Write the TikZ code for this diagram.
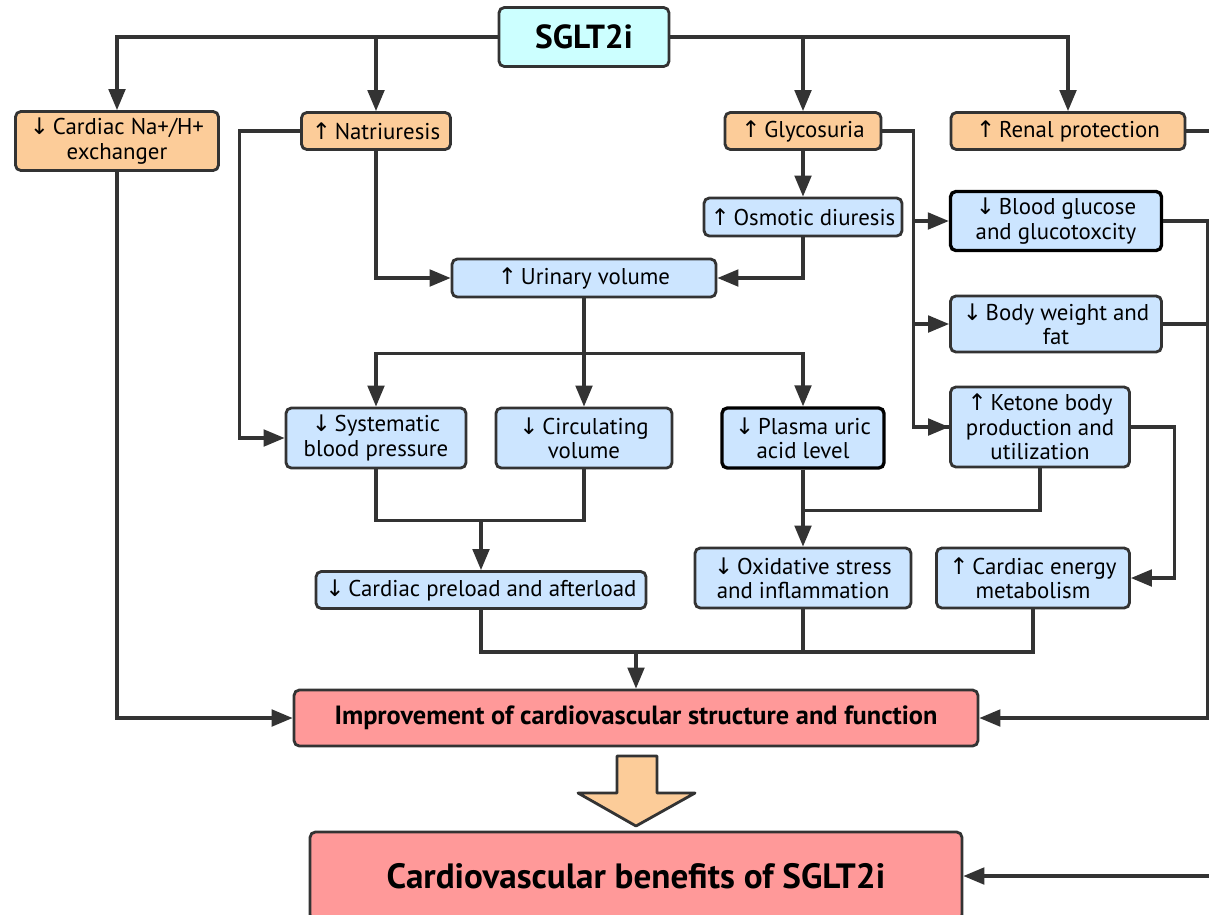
\documentclass[tikz,border=0pt]{standalone}
\usepackage{fontspec}
\setmainfont{PT Sans}
\newfontfamily\arrowfont{DejaVu Sans}
\usetikzlibrary{arrows.meta,positioning}
\definecolor{lineclr}{RGB}{51,51,51}
\definecolor{orangebox}{RGB}{252,204,153}
\definecolor{bluebox}{RGB}{204,229,255}
\definecolor{cyanbox}{RGB}{204,255,255}
\definecolor{redbox}{RGB}{255,153,153}
\newcommand{\incr}{{\arrowfont ↑}\,}
\newcommand{\decr}{{\arrowfont ↓}\,}

\begin{document}
\begin{tikzpicture}[x=0.02cm,y=-0.02cm,
    box/.style={draw=lineclr, line width=1.6pt, rounded corners=3pt, align=center,
        inner sep=0pt, font=\fontsize{13}{13.8}\selectfont},
    cause/.style={box, fill=orangebox},
    effect/.style={box, fill=bluebox},
    keybox/.style={effect, draw=black, line width=1.9pt},
    wire/.style={draw=lineclr, line width=1.8pt},
    link/.style={wire, -{Triangle[length=12pt,width=9.5pt]}}]
    \useasboundingbox (0,0) rectangle (1209,914);
    \clip (0,0) rectangle (1209,914);

    % Drug and its primary effects
    \node[box, fill=cyanbox, minimum width=3.4cm, minimum height=1.18cm,
        font=\fontsize{19}{22}\selectfont\bfseries] (sglt) at (584,37) {SGLT2i};
    \node[cause, minimum width=4.06cm, minimum height=1.18cm] (nhe) at (117,141) {\decr Cardiac Na+/H+\\exchanger};
    \node[cause, minimum width=2.98cm, minimum height=0.74cm] (natri) at (376,131) {\incr Natriuresis};
    \node[cause, minimum width=3.12cm, minimum height=0.74cm] (glyco) at (803,131) {\incr Glycosuria};
    \node[cause, minimum width=4.68cm, minimum height=0.74cm] (renal) at (1068,131) {\incr Renal protection};

    % Secondary effects
    \node[effect, minimum width=3.96cm, minimum height=0.76cm] (osmo) at (803,217) {\incr Osmotic diuresis};
    \node[keybox, minimum width=4.22cm, minimum height=1.18cm] (glucose) at (1056,221) {\decr Blood glucose\\and glucotoxcity};
    \node[effect, minimum width=5.28cm, minimum height=0.76cm] (urine) at (584,278) {\incr Urinary volume};
    \node[effect, minimum width=4.22cm, minimum height=1.12cm] (weight) at (1056,324) {\decr Body weight and\\fat};
    \node[effect, minimum width=3.58cm, minimum height=1.6cm] (ketone) at (1040,427) {\incr Ketone body\\production and\\utilization};
    \node[effect, minimum width=3.6cm, minimum height=1.2cm] (bp) at (376,438) {\decr Systematic\\blood pressure};
    \node[effect, minimum width=3.52cm, minimum height=1.2cm] (circ) at (584,438) {\decr Circulating\\volume};
    \node[keybox, minimum width=3.24cm, minimum height=1.2cm] (uric) at (803,438) {\decr Plasma uric\\acid level};
    \node[effect, minimum width=6.6cm, minimum height=0.74cm] (load) at (481,590) {\decr Cardiac preload and afterload};
    \node[effect, minimum width=4.32cm, minimum height=1.2cm] (oxid) at (803,578) {\decr Oxidative stress\\and inflammation};
    \node[effect, minimum width=3.86cm, minimum height=1.2cm] (energy) at (1033,578) {\incr Cardiac energy\\metabolism};

    % Outcome
    \node[box, fill=redbox, minimum width=13.68cm, minimum height=1.12cm,
        font=\fontsize{15}{18}\selectfont\bfseries] (improve) at (636,718)
        {Improvement of cardiovascular structure and function};
    \node[box, fill=redbox, minimum width=13.04cm, minimum height=1.76cm,
        font=\fontsize{20}{24}\selectfont\bfseries] (benefit) at (636,876)
        {Cardiovascular benefits of SGLT2i};
    \draw[lineclr, line width=1.6pt, fill=orangebox, line join=round]
        (617,756) -- (657,756) -- (657,793) -- (695,793) -- (636,826)
        -- (578,793) -- (617,793) -- cycle;

    % Connectors from SGLT2i
    \draw[link] (sglt.west) -| (nhe.north);
    \draw[link] (sglt.west) -| (natri.north);
    \draw[link] (sglt.east) -| (glyco.north);
    \draw[link] (sglt.east) -| (renal.north);

    % Natriuresis branch
    \draw[link] (natri.west) -- ++(-61,0) |- (bp.west);
    \draw[link] (natri.south) |- (urine.west);

    % Glycosuria branch
    \draw[link] (glyco.south) -- (osmo.north);
    \draw[link] (osmo.south) |- (urine.east);
    \draw[wire] (glyco.east) -- ++(31,0) coordinate (gx) |- (ketone.west);
    \draw[link] (gx) |- (glucose.west);
    \draw[link] (gx) |- (weight.west);
    \draw[link] (gx |- ketone.west) -- (ketone.west);

    % Urinary volume split
    \draw[link] (urine.south) -- (circ.north);
    \path (urine.south) ++(0,55) coordinate (usplit);
    \draw[link] (usplit) -| (bp.north);
    \draw[link] (usplit) -| (uric.north);

    % Haemodynamic effects
    \path (bp.south) ++(0,51) coordinate (bpjoin);
    \draw[wire] (bp.south) -- (bpjoin) -| (circ.south);
    \draw[link] (bpjoin -| load.north) -- (load.north);

    % Metabolic effects
    \draw[link] (uric.south) -- (oxid.north);
    \draw[wire] (ketone.south) -- ++(0,42) -| (uric.south);
    \draw[link] (ketone.east) -- ++(44,0) |- (energy.east);

    % Merge into the outcome
    \path (load.south) ++(0,42) coordinate (merge);
    \draw[wire] (load.south) -- (merge) -| (energy.south);
    \draw[wire] (oxid.south) -- (oxid.south |- merge);
    \draw[link] (merge -| improve.north) -- (improve.north);
    \draw[link] (nhe.south) |- (improve.west);
    \draw[link] (glucose.east) -- ++(44,0) coordinate (rx) |- (improve.east);
    \draw[wire] (weight.east) -- (weight.east -| rx);
    \draw[link] (renal.east) -- ++(40,0) |- (benefit.east);
\end{tikzpicture}
\end{document}
